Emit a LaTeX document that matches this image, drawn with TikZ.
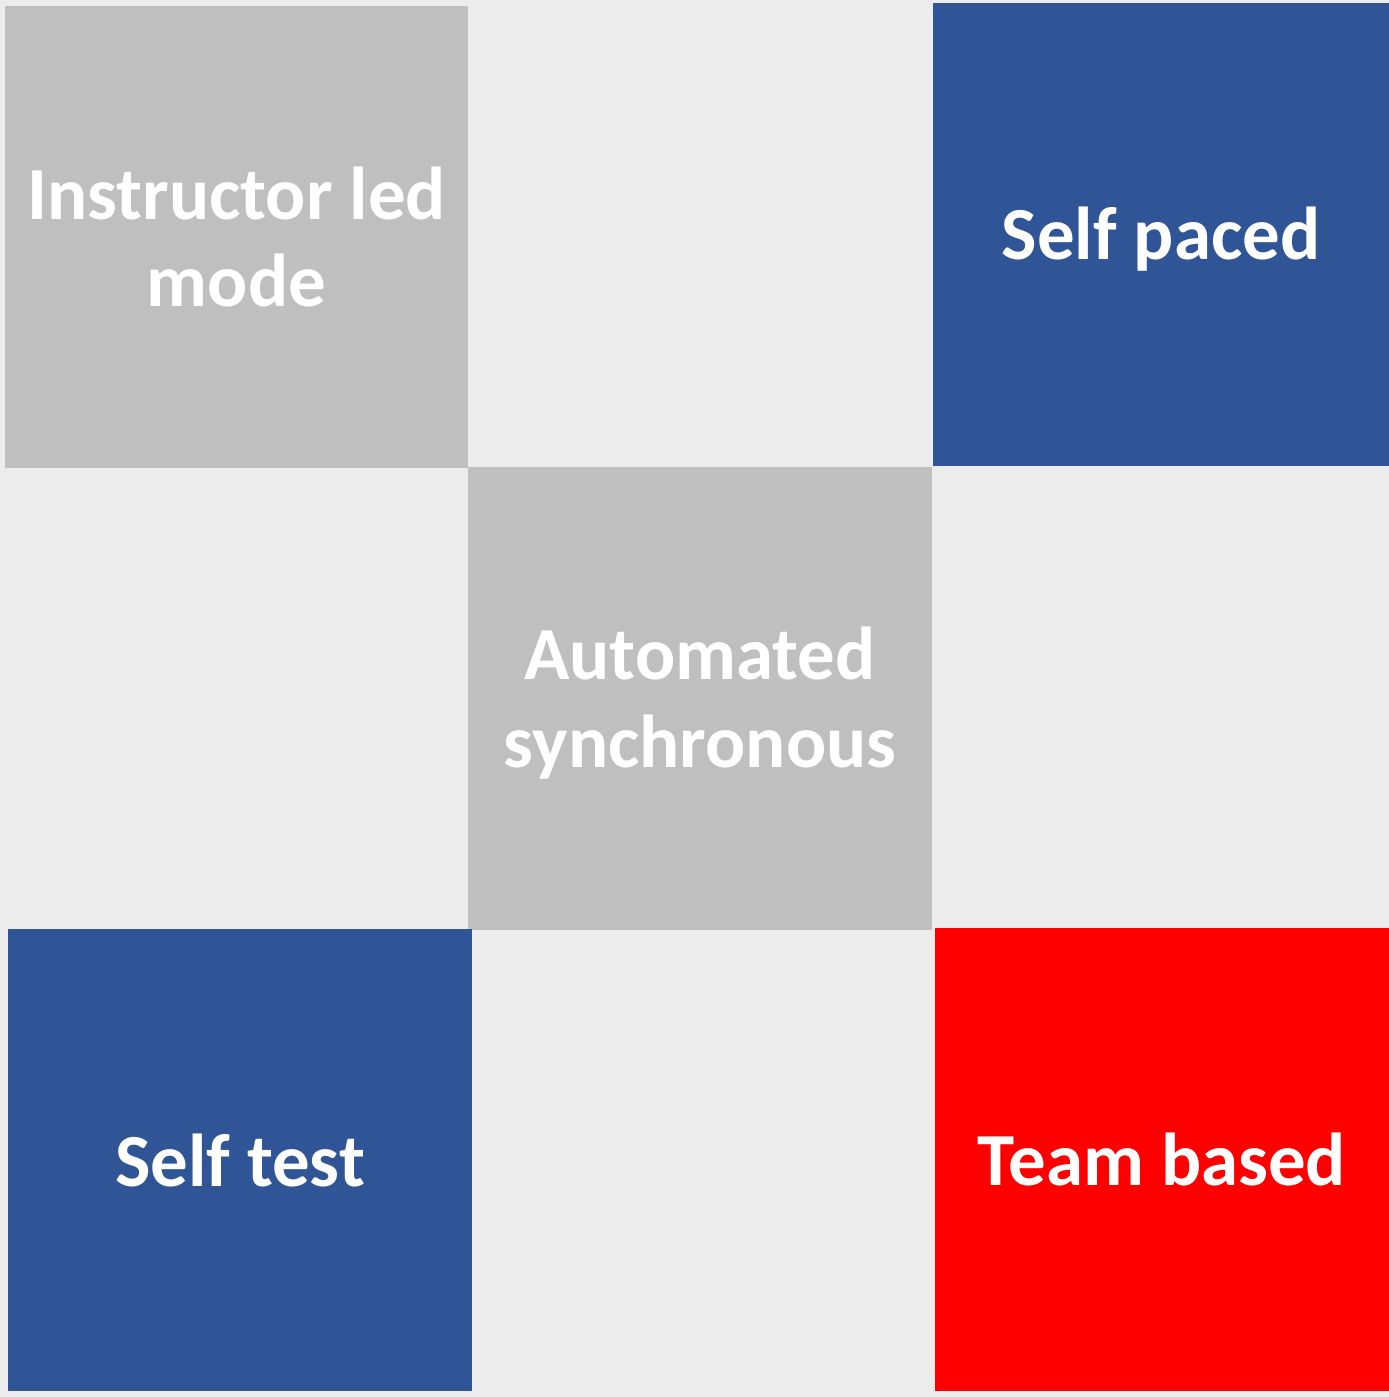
\documentclass[tikz,border=0pt]{standalone}
\usepackage{fontspec}
\setmainfont{Carlito}
\usepackage{xcolor}
\definecolor{bggray}{HTML}{ECECEC}
\definecolor{cellgray}{HTML}{BFBFBF}
\definecolor{cellblue}{HTML}{2F5597}
\definecolor{cellred}{HTML}{FF0000}
\tikzset{
  label text/.style={text=white, align=center, inner sep=0pt,
    font=\fontsize{21.3}{25}\selectfont\bfseries}
}
\begin{document}
\begin{tikzpicture}[x=0.01cm,y=-0.01cm]
    % background
    \fill[bggray] (0,0) rectangle (1389,1397);
    \useasboundingbox (0,0) rectangle (1389,1397);

    \fill[cellgray] (5,6) rectangle (468,468) node[midway,label text] (instr) {Instructor led\\mode};
    \fill[cellblue] (933,3) rectangle (1389,466) node[midway,label text,yshift=-0.045cm] (paced) {Self paced};

    \fill[cellgray] (468,467) rectangle (932,930) node[midway,label text,yshift=-0.05cm] (auto) {Automated\\synchronous};

    \fill[cellblue] (8,929) rectangle (472,1391) node[midway,label text] (test) {Self test};
    \fill[cellred] (935,928) rectangle (1389,1391) node[midway,label text] (team) {Team based};
  \end{tikzpicture}
\end{document}
